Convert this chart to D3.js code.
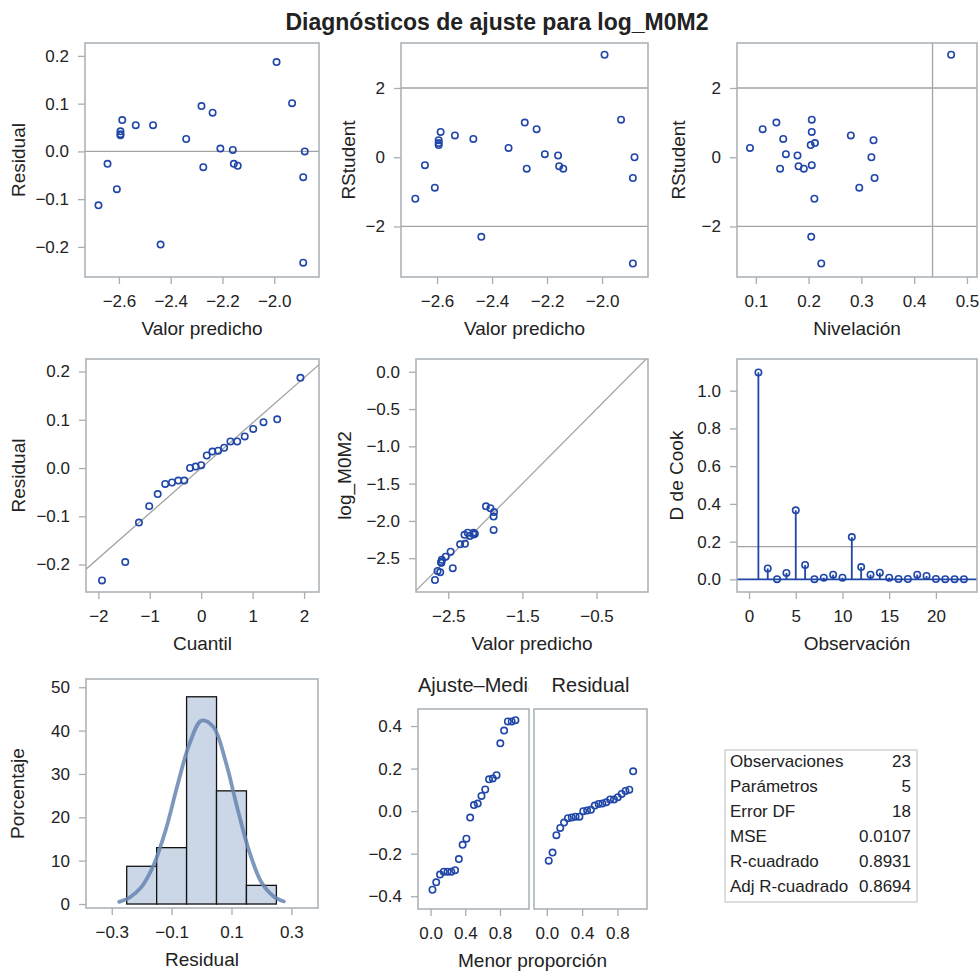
<!DOCTYPE html>
<html>
<head>
<meta charset="utf-8">
<script src="https://cdn.jsdelivr.net/npm/d3@7/dist/d3.min.js"></script>
<style>
  body { margin: 0; background: #fff; }
  text { font-family: Arial, "Liberation Sans", sans-serif; fill: #222; }
</style>
</head>
<body>
<svg id="chart" width="979" height="971"></svg>
<script>
// observaciones (mismo orden en todos los arrays)
const predicted = [-1.991, -1.931, -2.281, -2.238, -2.587, -2.535, -2.468, -2.594, -2.594, -2.594, -2.340, -2.208,
  -2.160, -1.882, -2.644, -2.156, -2.141, -2.274, -2.608, -1.888, -2.679, -2.439, -1.888]
const residual = [0.187, 0.101, 0.095, 0.081, 0.0655, 0.055, 0.055, 0.042, 0.036, 0.034, 0.026, 0.006,
  0.003, 0.000, -0.026, -0.026, -0.030, -0.033, -0.079, -0.054, -0.113, -0.195, -0.233]
const rstudent = [2.96, 1.085, 1.00, 0.81, 0.73, 0.63, 0.53, 0.49, 0.41, 0.35, 0.27, 0.087,
  0.05, 0.0, -0.23, -0.26, -0.33, -0.33, -0.88, -0.60, -1.20, -2.30, -3.07]
const leverage = [0.470, 0.206, 0.139, 0.113, 0.206, 0.280, 0.152, 0.323, 0.212, 0.204, 0.089, 0.157,
  0.179, 0.319, 0.206, 0.181, 0.191, 0.146, 0.296, 0.325, 0.211, 0.205, 0.224]

// D de Cook por número de observación 1..23
const cooksD = [1.097, 0.058, 0.001, 0.034, 0.366, 0.076, 0.001, 0.009, 0.025, 0.009, 0.224, 0.065,
  0.025, 0.035, 0.009, 0.002, 0.002, 0.025, 0.018, 0.002, 0.001, 0.001, 0.001]
const cookCutoff = 0.174

// cuantiles normales (Blom) para n = 23
const normalQuantiles = [-1.929, -1.477, -1.211, -1.011, -0.846, -0.700, -0.568, -0.446, -0.329, -0.217, -0.108, 0,
  0.108, 0.217, 0.329, 0.446, 0.568, 0.700, 0.846, 1.011, 1.211, 1.477, 1.929]
const qqSigma = 0.0936
const leverageCutoff = 0.4348

// histograma de residuales
const histLower = [-0.25, -0.15, -0.05, 0.05, 0.15]
const histPercent = [8.7, 13.0, 47.8, 26.1, 4.3]
const binWidth = 0.1
const densityX = [-0.275, -0.24, -0.20, -0.16, -0.12, -0.08, -0.04, 0.0, 0.04, 0.08, 0.12, 0.16, 0.20, 0.24, 0.275]
const densityPct = [0.5, 1.5, 4.0, 9.0, 17.0, 27.5, 37.0, 42.3, 40.8, 33.0, 22.0, 12.0, 5.0, 1.8, 0.6]

// tabla de estadísticas
const statLabels = ['Observaciones', 'Parámetros', 'Error DF', 'MSE', 'R-cuadrado', 'Adj R-cuadrado']
const statValues = ['23', '5', '18', '0.0107', '0.8931', '0.8694']

const MARK = '#2047a8'
const FRAME = '#a7aeb4'
const REF = '#a3a3a3'

const svg = d3.select('#chart')
let clipCount = 0

svg.append('text')
  .attr('x', 497).attr('y', 30)
  .attr('text-anchor', 'middle')
  .attr('font-size', 23).attr('font-weight', 'bold').attr('fill', '#000')
  .text('Diagnósticos de ajuste para log_M0M2')

// dibuja el marco, ejes y etiquetas de un panel; devuelve escalas y grupo recortado
function panel(cfg) {
  const x = d3.scaleLinear().domain(cfg.xDomain).range([cfg.x0, cfg.x1])
  const y = d3.scaleLinear().domain(cfg.yDomain).range([cfg.y1, cfg.y0])
  const id = 'clip' + (clipCount++)
  svg.append('clipPath').attr('id', id).append('rect')
    .attr('x', cfg.x0).attr('y', cfg.y0)
    .attr('width', cfg.x1 - cfg.x0).attr('height', cfg.y1 - cfg.y0)
  const inner = svg.append('g').attr('clip-path', `url(#${id})`)

  if (cfg.xTicks) {
    const ax = svg.append('g').attr('transform', `translate(0,${cfg.y1})`)
      .call(d3.axisBottom(x).tickValues(cfg.xTicks).tickFormat(cfg.xFmt).tickSize(7).tickPadding(11))
    styleAxis(ax)
  }
  if (cfg.yTicks) {
    const ay = svg.append('g').attr('transform', `translate(${cfg.x0},0)`)
      .call(d3.axisLeft(y).tickValues(cfg.yTicks).tickFormat(cfg.yFmt).tickSize(7).tickPadding(9))
    styleAxis(ay)
  }
  if (cfg.xLabel) {
    svg.append('text')
      .attr('x', cfg.xLabelX != null ? cfg.xLabelX : (cfg.x0 + cfg.x1) / 2)
      .attr('y', cfg.y1 + 58)
      .attr('text-anchor', 'middle').attr('font-size', 19)
      .text(cfg.xLabel)
  }
  if (cfg.yLabel) {
    const cy = (cfg.y0 + cfg.y1) / 2
    svg.append('text')
      .attr('transform', `translate(${cfg.yLabelX},${cy}) rotate(-90)`)
      .attr('text-anchor', 'middle').attr('font-size', 19)
      .text(cfg.yLabel)
  }
  return { x, y, inner, cfg }
}

function styleAxis(a) {
  a.select('.domain').remove()
  a.selectAll('.tick line').attr('stroke', FRAME).attr('stroke-width', 1.3)
  a.selectAll('.tick text').attr('font-size', 17).attr('fill', '#222')
    .attr('font-family', 'Arial, "Liberation Sans", sans-serif')
}

function frame(p) {
  const c = p.cfg
  svg.append('rect')
    .attr('x', c.x0).attr('y', c.y0)
    .attr('width', c.x1 - c.x0).attr('height', c.y1 - c.y0)
    .attr('fill', 'none').attr('stroke', FRAME).attr('stroke-width', 1.5)
}

function hline(p, v, color, w) {
  p.inner.append('line')
    .attr('x1', p.cfg.x0).attr('x2', p.cfg.x1)
    .attr('y1', p.y(v)).attr('y2', p.y(v))
    .attr('stroke', color || REF).attr('stroke-width', w || 1.3)
}

function vline(p, v) {
  p.inner.append('line')
    .attr('y1', p.cfg.y0).attr('y2', p.cfg.y1)
    .attr('x1', p.x(v)).attr('x2', p.x(v))
    .attr('stroke', REF).attr('stroke-width', 1.3)
}

function markers(p, xs, ys) {
  p.inner.append('g').selectAll('circle')
    .data(xs.map((v, i) => [v, ys[i]]))
    .enter().append('circle')
    .attr('cx', d => p.x(d[0]))
    .attr('cy', d => p.y(d[1]))
    .attr('r', 3.2)
    .attr('fill', 'none')
    .attr('stroke', MARK)
    .attr('stroke-width', 1.6)
}

const f1 = d3.format('.1f')
const f0 = d3.format('d')

// 1. Residual vs valor predicho
const p1 = panel({ x0: 85, x1: 319, y0: 43, y1: 277, xDomain: [-2.731, -1.827], yDomain: [-0.263, 0.227],
  xTicks: [-2.6, -2.4, -2.2, -2.0], xFmt: f1, yTicks: [-0.2, -0.1, 0, 0.1, 0.2], yFmt: f1,
  xLabel: 'Valor predicho', yLabel: 'Residual', yLabelX: 25 })
hline(p1, 0)
markers(p1, predicted, residual)
frame(p1)

// 2. RStudent vs valor predicho
const p2 = panel({ x0: 401, x1: 648, y0: 43, y1: 277, xDomain: [-2.731, -1.833], yDomain: [-3.46, 3.30],
  xTicks: [-2.6, -2.4, -2.2, -2.0], xFmt: f1, yTicks: [-2, 0, 2], yFmt: f0,
  xLabel: 'Valor predicho', yLabel: 'RStudent', yLabelX: 355 })
hline(p2, 2); hline(p2, -2)
markers(p2, predicted, rstudent)
frame(p2)

// 3. RStudent vs nivelación
const p3 = panel({ x0: 737, x1: 977, y0: 43, y1: 277, xDomain: [0.0644, 0.519], yDomain: [-3.46, 3.30],
  xTicks: [0.1, 0.2, 0.3, 0.4, 0.5], xFmt: f1, yTicks: [-2, 0, 2], yFmt: f0,
  xLabel: 'Nivelación', yLabel: 'RStudent', yLabelX: 685 })
hline(p3, 2); hline(p3, -2); vline(p3, leverageCutoff)
markers(p3, leverage, rstudent)
frame(p3)

// 4. Gráfico Q-Q de residuales
const sortedResid = residual.slice().sort(d3.ascending)
const p4 = panel({ x0: 86, x1: 319, y0: 359, y1: 592, xDomain: [-2.24, 2.29], yDomain: [-0.257, 0.226],
  xTicks: [-2, -1, 0, 1, 2], xFmt: f0, yTicks: [-0.2, -0.1, 0, 0.1, 0.2], yFmt: f1,
  xLabel: 'Cuantil', yLabel: 'Residual', yLabelX: 25 })
p4.inner.append('line')
  .attr('x1', p4.x(-2.24)).attr('y1', p4.y(-2.24 * qqSigma))
  .attr('x2', p4.x(2.29)).attr('y2', p4.y(2.29 * qqSigma))
  .attr('stroke', REF).attr('stroke-width', 1.3)
markers(p4, normalQuantiles, sortedResid)
frame(p4)

// 5. Observado vs predicho
const observed = predicted.map((v, i) => v + residual[i])
const p5 = panel({ x0: 416, x1: 648, y0: 359, y1: 592, xDomain: [-2.935, 0.195], yDomain: [-2.953, 0.171],
  xTicks: [-2.5, -1.5, -0.5], xFmt: f1, yTicks: [-2.5, -2.0, -1.5, -1.0, -0.5, 0.0], yFmt: f1,
  xLabel: 'Valor predicho', yLabel: 'log_M0M2', yLabelX: 351 })
p5.inner.append('line')
  .attr('x1', p5.x(-3)).attr('y1', p5.y(-3))
  .attr('x2', p5.x(0.2)).attr('y2', p5.y(0.2))
  .attr('stroke', REF).attr('stroke-width', 1.3)
markers(p5, predicted, observed)
frame(p5)

// 6. D de Cook
const obsIndex = cooksD.map((d, i) => i + 1)
const p6 = panel({ x0: 737, x1: 977, y0: 359, y1: 592, xDomain: [-1.29, 24.4], yDomain: [-0.067, 1.168],
  xTicks: [0, 5, 10, 15, 20], xFmt: f0, yTicks: [0, 0.2, 0.4, 0.6, 0.8, 1.0], yFmt: f1,
  xLabel: 'Observación', yLabel: 'D de Cook', yLabelX: 683 })
hline(p6, cookCutoff)
p6.inner.append('g').selectAll('line')
  .data(cooksD)
  .enter().append('line')
  .attr('x1', (d, i) => p6.x(obsIndex[i])).attr('x2', (d, i) => p6.x(obsIndex[i]))
  .attr('y1', p6.y(0)).attr('y2', d => p6.y(d))
  .attr('stroke', MARK).attr('stroke-width', 1.8)
hline(p6, 0, MARK, 1.8)
markers(p6, obsIndex, cooksD)
frame(p6)

// 7. Histograma de residuales
const p7 = panel({ x0: 86, x1: 318, y0: 679, y1: 908, xDomain: [-0.386, 0.389], yDomain: [-0.92, 51.9],
  xTicks: [-0.3, -0.1, 0.1, 0.3], xFmt: f1, yTicks: [0, 10, 20, 30, 40, 50], yFmt: f0,
  xLabel: 'Residual', yLabel: 'Porcentaje', yLabelX: 24 })
p7.inner.append('g').selectAll('rect')
  .data(histLower)
  .enter().append('rect')
  .attr('x', d => p7.x(d))
  .attr('width', d => p7.x(d + binWidth) - p7.x(d))
  .attr('y', (d, i) => p7.y(histPercent[i]))
  .attr('height', (d, i) => p7.y(0) - p7.y(histPercent[i]))
  .attr('fill', '#cbd6e6').attr('stroke', '#111').attr('stroke-width', 1.3)
p7.inner.append('path')
  .datum(densityX.map((v, i) => [v, densityPct[i]]))
  .attr('d', d3.line().x(d => p7.x(d[0])).y(d => p7.y(d[1])).curve(d3.curveCatmullRom))
  .attr('fill', 'none').attr('stroke', '#6785b0').attr('stroke-opacity', 0.85)
  .attr('stroke-width', 3.8).attr('stroke-linecap', 'round')
frame(p7)

// 8. Gráfico de dispersión ajuste-residual
const meanPred = d3.mean(predicted)
const fitSpread = predicted.map(v => v - meanPred).sort(d3.ascending)
const n = predicted.length
const proportion = fitSpread.map((d, i) => (i + 0.5) / n)
const p8a = panel({ x0: 418, x1: 529, y0: 709, y1: 909, xDomain: [-0.145, 1.135], yDomain: [-0.46, 0.48],
  xTicks: [0, 0.4, 0.8], xFmt: f1, yTicks: [-0.4, -0.2, 0, 0.2, 0.4], yFmt: f1,
  xLabel: 'Menor proporción', xLabelX: 532.5 })
markers(p8a, proportion, fitSpread)
frame(p8a)
const p8b = panel({ x0: 534, x1: 647, y0: 709, y1: 909, xDomain: [-0.145, 1.135], yDomain: [-0.46, 0.48],
  xTicks: [0, 0.4, 0.8], xFmt: f1 })
markers(p8b, proportion, sortedResid)
frame(p8b)

svg.append('clipPath').attr('id', 'hdrclip').append('rect')
  .attr('x', 418).attr('y', 670).attr('width', 111).attr('height', 30)
svg.append('text')
  .attr('x', 418).attr('y', 692).attr('clip-path', 'url(#hdrclip)')
  .attr('font-size', 20).text('Ajuste–Media')
svg.append('text')
  .attr('x', 590.5).attr('y', 692).attr('text-anchor', 'middle')
  .attr('font-size', 20).text('Residual')

// 9. Tabla de ajuste
const table = svg.append('g')
table.append('rect')
  .attr('x', 725).attr('y', 750).attr('width', 192).attr('height', 152)
  .attr('fill', 'none').attr('stroke', '#c9c9c9').attr('stroke-width', 1.2)
const rowY = d3.scalePoint().domain(statLabels).range([766.5, 891.5])
table.selectAll('text.lbl')
  .data(statLabels)
  .enter().append('text')
  .attr('class', 'lbl')
  .attr('x', 730).attr('y', d => rowY(d))
  .attr('font-size', 17)
  .text(d => d)
table.selectAll('text.val')
  .data(statValues)
  .enter().append('text')
  .attr('class', 'val')
  .attr('x', 911).attr('y', (d, i) => rowY(statLabels[i]))
  .attr('text-anchor', 'end')
  .attr('font-size', 17)
  .text(d => d)
</script>
</body>
</html>
